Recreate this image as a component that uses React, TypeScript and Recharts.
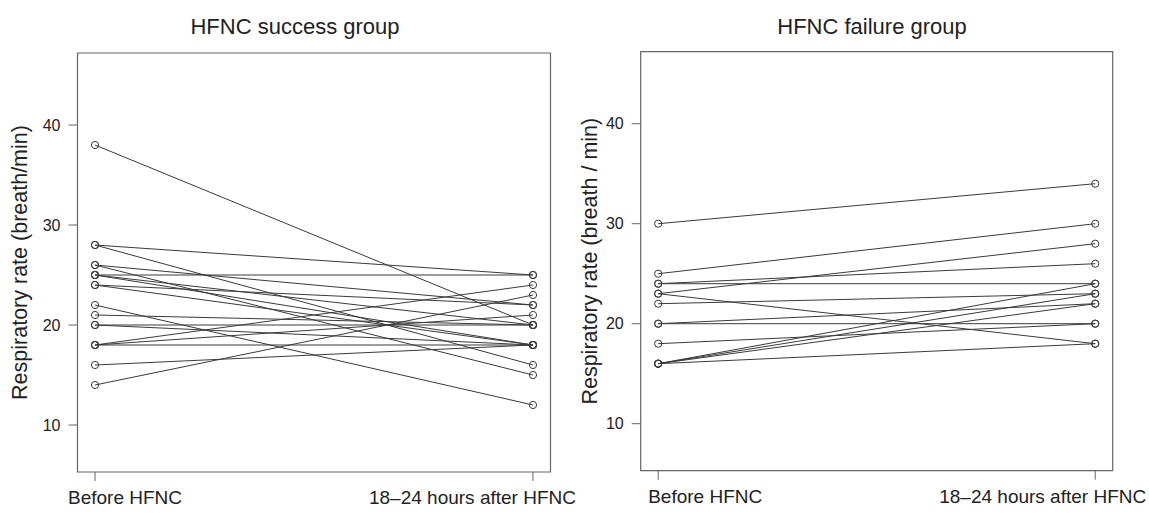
import React from 'react';
import { ScatterChart, Scatter, XAxis, YAxis, ReferenceArea } from 'recharts';

// ---------- data ----------
const timeLabels = ['Before HFNC', '18–24 hours after HFNC'];
const yTicks = [10, 20, 30, 40];

const successBefore = [38, 28, 28, 26, 26, 25, 25, 25, 24, 24, 22, 21, 20, 20, 18, 18, 18, 16, 14];
const successAfter = [20, 25, 16, 22, 15, 25, 20, 18, 22, 18, 12, 20, 20, 18, 24, 21, 18, 18, 23];

const failureBefore = [30, 25, 24, 24, 23, 23, 22, 20, 20, 18, 16, 16, 16, 16];
const failureAfter = [34, 30, 26, 24, 28, 18, 23, 22, 20, 20, 24, 23, 22, 18];

const FONT = '"Liberation Sans", Arial, Helvetica, sans-serif';
const INK = '#222';
const LINE = '#3a3a3a';
const FRAME = '#666';

const Y_DOMAIN: [number, number] = [5.3, 47.2];
const X_DOMAIN: [number, number] = [0.96, 2.04];

const OpenCircle = (props: any) => {
  const { cx, cy } = props;
  if (cx == null || cy == null) return null;
  return <circle cx={cx} cy={cy} r={3.6} fill="none" stroke={LINE} strokeWidth={1} />;
};

type PanelProps = {
  before: number[];
  after: number[];
  title: string;
  titleX: number;
  yLabel: string;
  left: number;
  width: number;
  top: number;
  bottomAxisH: number;
  rightMargin: number;
  yAxisW: number;
  yLabelX: number;
  firstOffset: number;
  lastOffset: number;
};

function Panel(p: PanelProps) {
  const pairs = p.before.map((b, i) => [
    { x: 1, y: b },
    { x: 2, y: p.after[i] },
  ]);

  const XTick = (props: any) => {
    const { x, y, payload } = props;
    const first = payload.value === 1;
    return (
      <text
        x={first ? x + p.firstOffset : x + p.lastOffset}
        y={y + 23}
        textAnchor={first ? 'start' : 'end'}
        fill={INK}
        fontSize={19}
        fontFamily={FONT}
      >
        {timeLabels[payload.value - 1]}
      </text>
    );
  };

  const YLab = (props: any) => {
    const vb = props.viewBox || {};
    const cx = (vb.x ?? 0) + p.yLabelX;
    const cy = (vb.y ?? 0) + (vb.height ?? 0) / 2;
    return (
      <text
        x={cx}
        y={cy}
        transform={`rotate(-90 ${cx} ${cy})`}
        textAnchor="middle"
        dominantBaseline="central"
        fill={INK}
        fontSize={21.5}
        fontFamily={FONT}
      >
        {p.yLabel}
      </text>
    );
  };

  return (
    <div style={{ position: 'absolute', left: p.left, top: 0, width: p.width, height: 516 }}>
      <div
        style={{
          position: 'absolute',
          left: p.titleX - p.left,
          top: 16,
          transform: 'translateX(-50%)',
          whiteSpace: 'nowrap',
          fontFamily: FONT,
          fontSize: 22,
          lineHeight: '22px',
          color: INK,
        }}
      >
        {p.title}
      </div>
      <ScatterChart
        width={p.width}
        height={516}
        margin={{ top: p.top, right: p.rightMargin, bottom: 0, left: 0 }}
      >
        <XAxis
          type="number"
          dataKey="x"
          domain={X_DOMAIN}
          ticks={[1, 2]}
          allowDataOverflow
          height={p.bottomAxisH}
          axisLine={false}
          tickSize={9}
          tickMargin={0}
          tickLine={{ stroke: FRAME }}
          tick={<XTick />}
          interval={0}
        />
        <YAxis
          type="number"
          dataKey="y"
          domain={Y_DOMAIN}
          ticks={yTicks}
          allowDataOverflow
          width={p.yAxisW}
          axisLine={false}
          tickSize={9}
          tickMargin={8}
          tickLine={{ stroke: FRAME }}
          tick={{ fill: INK, fontSize: 16, fontFamily: FONT }}
          label={<YLab />}
        />
        <ReferenceArea
          x1={X_DOMAIN[0]}
          x2={X_DOMAIN[1]}
          y1={Y_DOMAIN[0]}
          y2={Y_DOMAIN[1]}
          fill="none"
          fillOpacity={0}
          stroke={FRAME}
          strokeWidth={1.2}
          ifOverflow="visible"
        />
        {pairs.map((d, i) => (
          <Scatter
            key={i}
            data={d}
            line={{ stroke: LINE, strokeWidth: 1 }}
            shape={<OpenCircle />}
            fill={LINE}
            isAnimationActive={false}
          />
        ))}
      </ScatterChart>
    </div>
  );
}

export default function App() {
  return (
    <div style={{ position: 'absolute', left: 0, top: 0, width: 1149, height: 516, background: '#fff' }}>
      <Panel
        before={successBefore}
        after={successAfter}
        title="HFNC success group"
        titleX={295}
        yLabel="Respiratory rate (breath/min)"
        left={0}
        width={580}
        top={53}
        bottomAxisH={44}
        rightMargin={29.5}
        yAxisW={77.5}
        yLabelX={20}
        firstOffset={-27}
        lastOffset={43}
      />
      <Panel
        before={failureBefore}
        after={failureAfter}
        title="HFNC failure group"
        titleX={872}
        yLabel="Respiratory rate (breath / min)"
        left={565}
        width={584}
        top={51.7}
        bottomAxisH={45.3}
        rightMargin={36.3}
        yAxisW={75.7}
        yLabelX={25}
        firstOffset={-10}
        lastOffset={51}
      />
    </div>
  );
}
